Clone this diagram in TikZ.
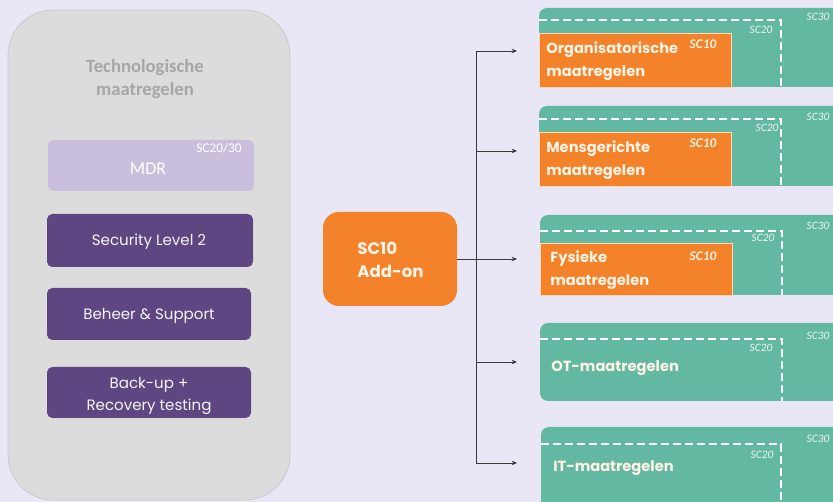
\documentclass[tikz,border=0pt]{standalone}
\usepackage{fontspec}
\setmainfont{Poppins}
\newfontfamily\calfont{Carlito}
\usetikzlibrary{fit,arrows.meta}
\definecolor{bgc}{HTML}{E9E7F5}
\definecolor{panelc}{HTML}{DCDCDC}
\definecolor{panelb}{HTML}{C9C9C9}
\definecolor{titlec}{HTML}{A6A6A6}
\definecolor{mdrc}{HTML}{C9BFDD}
\definecolor{purplec}{HTML}{5E4682}
\definecolor{orangec}{HTML}{F3822A}
\definecolor{tealc}{HTML}{63B8A1}
\definecolor{linec}{HTML}{3A3A3A}
\definecolor{creamc}{HTML}{FFF4E6}
\definecolor{sclabel}{HTML}{EEF4F2}
\tikzset{
  rect/.style={inner sep=0pt},
  purplebox/.style={fill=purplec, rounded corners=4pt},
  tealbox/.style={fill=tealc, rounded corners=6pt},
  orangebox/.style={fill=orangec, draw=orange!30!white, line width=0.5pt},
  dashline/.style={draw=white, line width=1.4pt, dash pattern=on 6pt off 3pt},
  whitetxt/.style={text=white!94!purplec, font=\fontsize{11.3}{13}\selectfont},
  boldtxt/.style={text=creamc, font=\fontsize{11}{17}\selectfont\bfseries, align=left, anchor=west, inner sep=0pt},
  sctxt/.style={text=sclabel, font=\calfont\itshape\fontsize{8.5}{9}\selectfont, inner sep=0pt},
  scbold/.style={text=creamc, font=\calfont\bfseries\itshape\fontsize{10}{11}\selectfont, inner sep=0pt},
  conn/.style={draw=linec, line width=0.6pt},
  arr/.style={conn, -{Stealth[length=4pt,width=3.5pt]}},
}
\begin{document}
\begin{tikzpicture}[x=0.75pt,y=-0.75pt]
\useasboundingbox (0,0) rectangle (833,502);
\fill[bgc] (0,0) rectangle (833,502);
\begin{scope}
\clip (0,0) rectangle (833,502);
% left panel
\node[rect, fit={(8,10)(290,500)}, fill=panelc, draw=panelb, line width=0.6pt, rounded corners=34pt] (panel) {};
\node[text=titlec, font=\calfont\bfseries\fontsize{14}{17}\selectfont, align=center] (title) at (145,79) {Technologische\\maatregelen};
\node[rect, fit={(48,140)(254,191)}, fill=mdrc, rounded corners=4pt] (mdr) {};
\node[text=white, font=\calfont\fontsize{13.5}{14}\selectfont] (mdrt) at (148,169) {MDR};
\node[text=white, font=\calfont\fontsize{10}{10}\selectfont] (mdrsc) at (219,148) {SC20/30};
\node[rect, fit={(47,214)(253,267)}, purplebox] (sec) {};
\node[whitetxt] (sect) at (149,242) {Security Level 2};
\node[rect, fit={(47,288)(251,340)}, purplebox] (beh) {};
\node[whitetxt] (beht) at (149,316) {Beheer \& Support};
\node[rect, fit={(47,367)(251,418)}, purplebox] (bak) {};
\node[whitetxt, align=center, font=\fontsize{11.3}{17}\selectfont] (bakt) at (149,396) {Back-up +\\Recovery testing};
% add-on
\node[rect, fit={(323,212)(457,306)}, fill=orangec, rounded corners=12pt] (addon) {};
\node[boldtxt, font=\fontsize{12.5}{17.5}\selectfont\bfseries] (addont) at (357,260) {SC10\\Add-on};
% connectors
\coordinate (j) at (476,259);
\coordinate (j1) at (476,51);
\coordinate (j2) at (476,151);
\coordinate (j4) at (476,362);
\coordinate (j5) at (476,463);
\coordinate (t1) at (517,51);
\coordinate (t2) at (517,151);
\coordinate (t3) at (517,259);
\coordinate (t4) at (517,362);
\coordinate (t5) at (517,463);
\draw[conn] (addon.east) -- (j);
\draw[conn] (j1) -- (j5);
\draw[arr] (j1) -- (t1);
\draw[arr] (j2) -- (t2);
\draw[arr] (j) -- (t3);
\draw[arr] (j4) -- (t4);
\draw[arr] (j5) -- (t5);
% box 1
\node[rect, fit={(539,8)(860,87)}, tealbox] (b1) {};
\draw[dashline] (539,20) -- (781,20) -- (781,87);
\node[sctxt] (b1s30) at (818,17) {SC30};
\node[sctxt] (b1s20) at (761,30) {SC20};
\node[rect, fit={(539,33)(731,87)}, orangebox] (o1) {};
\node[boldtxt] (o1t) at (546,61) {Organisatorische\\maatregelen};
\node[scbold] (o1s) at (703,44) {SC10};
% box 2
\node[rect, fit={(539,106)(860,186)}, tealbox] (b2) {};
\draw[dashline] (539,119) -- (781,119) -- (781,186);
\node[sctxt] (b2s30) at (818,117) {SC30};
\node[sctxt] (b2s20) at (767,128) {SC20};
\node[rect, fit={(539,132)(731,186)}, orangebox] (o2) {};
\node[boldtxt] (o2t) at (546,160) {Mensgerichte\\maatregelen};
\node[scbold] (o2s) at (703,143) {SC10};
% box 3
\node[rect, fit={(540,215)(860,295)}, tealbox] (b3) {};
\draw[dashline] (540,231) -- (782,231) -- (782,295);
\node[sctxt] (b3s30) at (818,226) {SC30};
\node[sctxt] (b3s20) at (763,238) {SC20};
\node[rect, fit={(540,243)(732,295)}, orangebox] (o3) {};
\node[boldtxt] (o3t) at (550,270) {Fysieke\\maatregelen};
\node[scbold] (o3s) at (703,256) {SC10};
% box 4
\node[rect, fit={(540,323)(860,401)}, tealbox] (b4) {};
\draw[dashline] (540,339) -- (782,339) -- (782,401);
\node[sctxt] (b4s30) at (818,336) {SC30};
\node[sctxt] (b4s20) at (761,348) {SC20};
\node[boldtxt] (b4t) at (551,368) {OT-maatregelen};
% box 5
\node[rect, fit={(541,427)(860,515)}, tealbox] (b5) {};
\draw[dashline] (541,444) -- (781,444) -- (781,505);
\node[sctxt] (b5s30) at (818,439) {SC30};
\node[sctxt] (b5s20) at (762,455) {SC20};
\node[boldtxt] (b5t) at (553,468) {IT-maatregelen};
\end{scope}
\end{tikzpicture}
\end{document}
